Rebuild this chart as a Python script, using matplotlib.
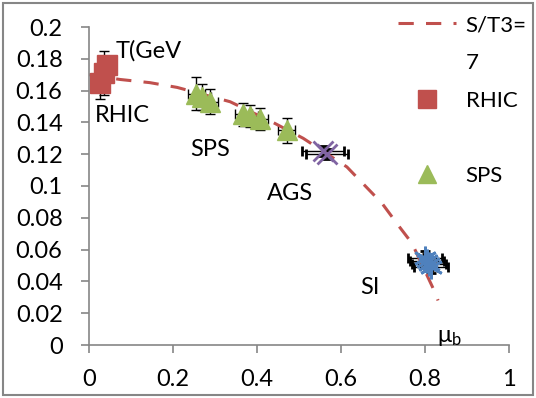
import matplotlib
matplotlib.use('Agg')
import matplotlib.pyplot as plt
from matplotlib.lines import Line2D
from matplotlib.patches import Rectangle

plt.rcParams['font.family'] = ['Lato', 'DejaVu Sans']
plt.rcParams['mathtext.fontset'] = 'custom'
plt.rcParams['mathtext.rm'] = 'Lato'
plt.rcParams['mathtext.it'] = 'Lato'

# S/T^3 = 7 curve
line_mu = [0.0, 0.074, 0.145, 0.210, 0.336, 0.438, 0.510, 0.614, 0.698, 0.740, 0.769, 0.824, 0.831]
line_T = [0.170, 0.167, 0.165, 0.162, 0.153, 0.140, 0.130, 0.112, 0.089, 0.074, 0.064, 0.033, 0.028]

rhic_mu = [0.043, 0.035, 0.027]
rhic_T = [0.176, 0.171, 0.165]
rhic_Terr = [0.006, 0.014, 0.010]
rhic_muerr = [0.005, 0.005, 0.005]

sps_mu = [0.255, 0.27, 0.288, 0.367, 0.383, 0.407, 0.471]
sps_T = [0.158, 0.156, 0.153, 0.145, 0.144, 0.142, 0.135]
sps_Terr = [0.0105, 0.008, 0.008, 0.007, 0.007, 0.007, 0.008]
sps_muerr = [0.02, 0.02, 0.02, 0.02, 0.02, 0.02, 0.02]

ags_mu = [0.557, 0.567]
ags_T = [0.122, 0.120]
ags_Terr = [0.003, 0.003]
ags_muerr = [0.05, 0.05]

sis_mu = [0.80, 0.81, 0.815, 0.805]
sis_T = [0.055, 0.051, 0.049, 0.053]
sis_Terr = [0.004, 0.004, 0.004, 0.004]
sis_muerr = [0.04, 0.04, 0.04, 0.04]

red = '#C0504D'
green = '#9BBB59'
purple = '#8064A2'
blue = '#4F81BD'
grey = '#868686'

fig = plt.figure(figsize=(5.36, 3.98), dpi=100)
ax = fig.add_axes([89/536, 1-345/398, 420/536, 318/398])

eb = dict(ecolor='black', elinewidth=1.0, capsize=3.5, capthick=1.0, linestyle='none')
ax.errorbar(sis_mu, sis_T, yerr=sis_Terr, xerr=sis_muerr, marker=(6, 2, 0), ms=17,
            mec=blue, mew=2, color=blue, **eb)
ax.errorbar(ags_mu, ags_T, yerr=ags_Terr, xerr=ags_muerr, marker='x', ms=15,
            mec=purple, mew=2, color=purple, **eb)
ax.errorbar(sps_mu, sps_T, yerr=sps_Terr, xerr=sps_muerr, fmt='none', **eb)
ax.errorbar(rhic_mu, rhic_T, yerr=rhic_Terr, xerr=rhic_muerr, fmt='none', **eb)
line, = ax.plot(line_mu, line_T, color=red, lw=2.2, dashes=(5, 4))
rh, = ax.plot(rhic_mu, rhic_T, 's', color=red, ms=14)
sp, = ax.plot(sps_mu, sps_T, '^', color=green, ms=14)

ax.set_xlim(0, 1)
ax.set_ylim(0, 0.2)
ax.set_xticks([0, 0.2, 0.4, 0.6, 0.8, 1])
ax.set_xticklabels(['0', '0.2', '0.4', '0.6', '0.8', '1'])
ax.set_yticks([i * 0.02 for i in range(11)])
ax.set_yticklabels(['0', '0.02', '0.04', '0.06', '0.08', '0.1', '0.12', '0.14', '0.16', '0.18', '0.2'])
ax.tick_params(labelsize=17, color=grey, length=6, width=1.2)
ax.tick_params(axis='x', pad=11)
ax.tick_params(axis='y', pad=13)
for s in ['top', 'right']:
    ax.spines[s].set_visible(False)
for s in ['left', 'bottom']:
    ax.spines[s].set_color(grey)
    ax.spines[s].set_linewidth(1.2)
ax.patch.set_alpha(0)

ax.text(0.064, 0.181, 'T(GeV', fontsize=17)
ax.text(0.014, 0.140, 'RHIC', fontsize=17)
ax.text(0.240, 0.119, 'SPS', fontsize=17)
ax.text(0.424, 0.091, 'AGS', fontsize=17)
ax.text(0.645, 0.032, 'SI', fontsize=17)
ax.text(0.828, 0.002, r'$\mathrm{\mu_b}$', fontsize=17)

blank = Line2D([], [], linestyle='none')
fig.legend([line, blank, rh, blank, sp], ['S/T3=', '7', 'RHIC', ' ', 'SPS'],
           loc='upper left', bbox_to_anchor=(398/536, 1-15/398), frameon=False,
           fontsize=16, borderpad=0, borderaxespad=0, handlelength=2.6, handletextpad=0.45,
           labelspacing=0.8, markerscale=0.95)

fig.patches.append(Rectangle((3/536, 3/398), 530/536, 392/398, transform=fig.transFigure,
                             fill=False, edgecolor=grey, lw=1.5))

fig.savefig('out.png', dpi=100)
